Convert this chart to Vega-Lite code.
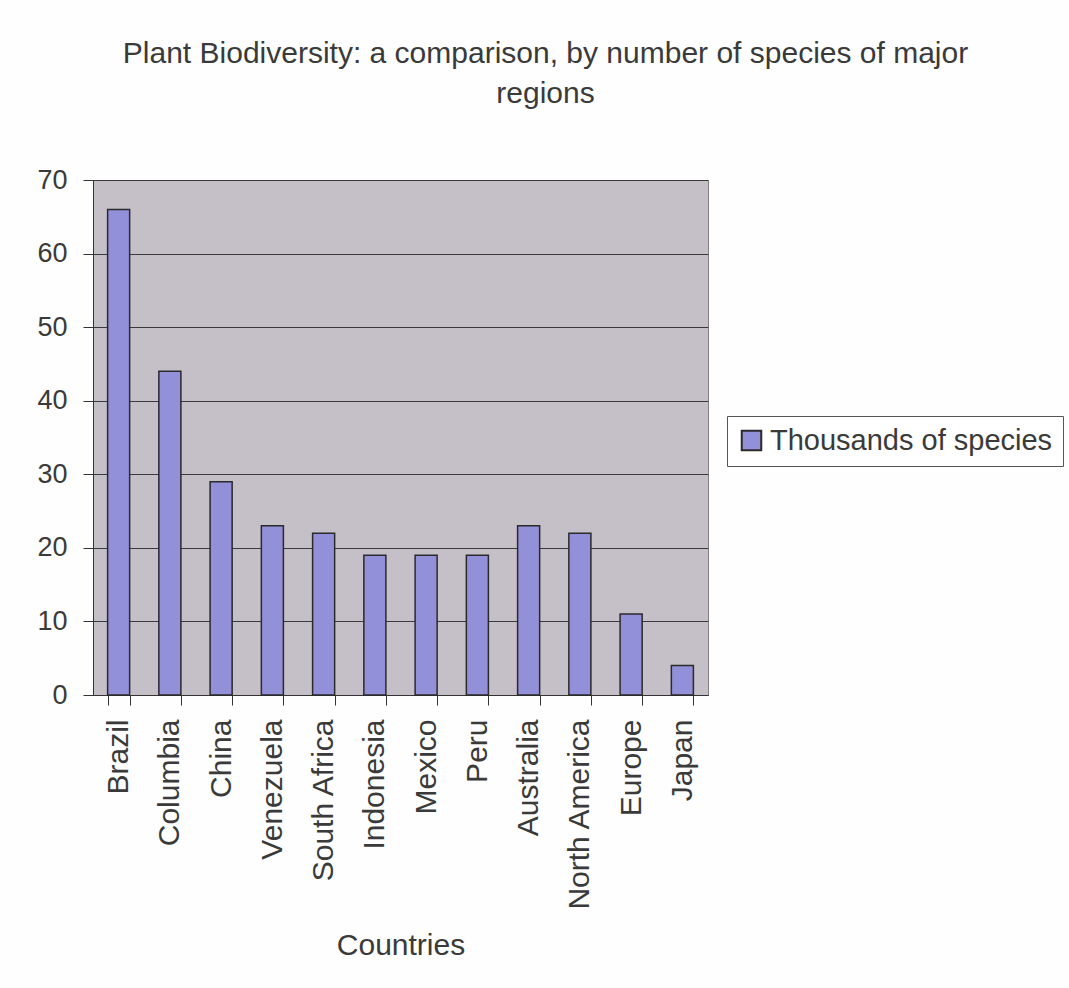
{
  "$schema": "https://vega.github.io/schema/vega-lite/v6.json",
  "width": 615,
  "height": 515,
  "autosize": {"type": "none"},
  "padding": {"left": 93, "top": 180, "right": 361, "bottom": 293},
  "background": "#fefefe",
  "title": {
    "text": ["Plant Biodiversity: a comparison, by number of species of major", "regions"],
    "font": "Liberation Sans",
    "fontSize": 30,
    "fontWeight": "normal",
    "color": "#3a3a3a",
    "anchor": "middle",
    "frame": "group",
    "dx": 145,
    "offset": 57,
    "lineHeight": 40
  },
  "data": {
    "values": [
      {"country": "Brazil", "value": 66, "series": "Thousands of species"},
      {"country": "Columbia", "value": 44, "series": "Thousands of species"},
      {"country": "China", "value": 29, "series": "Thousands of species"},
      {"country": "Venezuela", "value": 23, "series": "Thousands of species"},
      {"country": "South Africa", "value": 22, "series": "Thousands of species"},
      {"country": "Indonesia", "value": 19, "series": "Thousands of species"},
      {"country": "Mexico", "value": 19, "series": "Thousands of species"},
      {"country": "Peru", "value": 19, "series": "Thousands of species"},
      {"country": "Australia", "value": 23, "series": "Thousands of species"},
      {"country": "North America", "value": 22, "series": "Thousands of species"},
      {"country": "Europe", "value": 11, "series": "Thousands of species"},
      {"country": "Japan", "value": 4, "series": "Thousands of species"}
    ]
  },
  "mark": {"type": "bar", "stroke": "#2a2a2a", "strokeWidth": 1.5},
  "encoding": {
    "x": {
      "field": "country",
      "type": "nominal",
      "sort": null,
      "title": "Countries",
      "scale": {"paddingInner": 0.57, "paddingOuter": 0.285},
      "axis": {
        "labelAngle": -90,
        "labelAlign": "right",
        "labelBaseline": "middle",
        "labelFont": "Liberation Sans",
        "labelFontSize": 30,
        "labelColor": "#3a3a3a",
        "labelPadding": 14,
        "labelLimit": 300,
        "tickBand": "extent",
        "tickSize": 10,
        "tickColor": "#333333",
        "domainColor": "#333333",
        "titleFont": "Liberation Sans",
        "titleFontSize": 30,
        "titleFontWeight": "normal",
        "titleColor": "#3a3a3a",
        "titlePadding": 35,
        "grid": false
      }
    },
    "y": {
      "field": "value",
      "type": "quantitative",
      "title": null,
      "scale": {"domain": [0, 70]},
      "axis": {
        "values": [0, 10, 20, 30, 40, 50, 60, 70],
        "labelFont": "Liberation Sans",
        "labelFontSize": 27,
        "labelColor": "#3a3a3a",
        "labelPadding": 16,
        "tickSize": 10,
        "tickColor": "#333333",
        "domainColor": "#333333",
        "grid": true,
        "gridColor": "#3a3a3a",
        "gridWidth": 1,
        "gridOpacity": 1
      }
    },
    "color": {
      "field": "series",
      "type": "nominal",
      "scale": {"range": ["#9290d8"]},
      "legend": {
        "title": null,
        "orient": "none",
        "legendX": 634,
        "legendY": 236,
        "symbolType": "square",
        "symbolSize": 380,
        "symbolStrokeColor": "#2a2a2a",
        "symbolStrokeWidth": 2,
        "labelFont": "Liberation Sans",
        "labelFontSize": 29,
        "labelColor": "#3a3a3a",
        "labelLimit": 500,
        "labelOffset": 4,
        "strokeColor": "#555555",
        "padding": 10,
        "fillColor": "#ffffff"
      }
    }
  },
  "config": {
    "view": {"fill": "#c5bfc7", "stroke": "#808080", "strokeWidth": 1}
  }
}
